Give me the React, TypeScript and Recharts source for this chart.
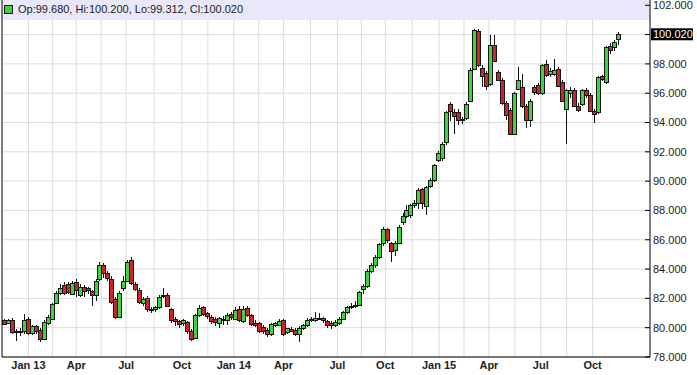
import React from "react";
import { ComposedChart, Bar, XAxis, YAxis, CartesianGrid, ReferenceArea, ReferenceLine } from "recharts";

// weekly candles, Nov 2012 .. Nov 2015
const opens = [
  80.5, 80.35, 80.55, 79.75, 79.8, 79.75, 80.6, 79.65, 80.1, 79.85,
  79.25, 80.3, 80.6, 81.7, 82.35, 82.9, 82.95, 82.3, 83.1, 82.25,
  82.75, 82.7, 82.5, 82.2, 83.35, 84.25, 83.7, 83.35, 81.95, 80.75,
  82.7, 83.2, 84.6, 83.0, 82.6, 81.7, 82.05, 81.2, 81.3, 81.4,
  82.15, 82.25, 81.25, 80.6, 80.45, 80.3, 80.4, 79.75, 79.3, 80.85,
  81.4, 81.0, 80.75, 80.6, 80.35, 80.5, 80.55, 80.9, 80.6, 81.3,
  80.45, 81.35, 80.85, 80.3, 80.3, 80.05, 79.85, 79.6, 80.2, 80.2,
  80.5, 79.7, 79.9, 79.85, 79.6, 80.0, 80.15, 80.55, 80.5, 80.65,
  80.65, 80.45, 80.35, 80.15, 80.3, 80.6, 81.05, 81.4, 81.5, 81.55,
  82.65, 82.85, 83.9, 84.25, 84.85, 85.75, 86.7, 85.75, 85.3, 85.8,
  87.2, 87.65, 87.7, 88.4, 88.5, 89.45, 88.3, 89.7, 90.1, 91.45,
  91.55, 92.7, 95.25, 94.75, 94.75, 94.15, 94.3, 95.5, 97.65, 100.25,
  97.75, 97.35, 96.65, 99.3, 97.45, 96.9, 95.3, 94.85, 93.25, 96.3,
  96.45, 95.1, 94.2, 96.4, 96.55, 96.0, 98.0, 97.3, 97.3, 97.65,
  96.75, 94.95, 96.0, 96.2, 95.15, 95.25, 96.2, 95.85, 94.8, 94.7,
  97.15, 96.75, 99.25, 99.15, 99.68,
];
const highs = [
  80.62, 80.6, 80.65, 79.92, 80.0, 80.95, 80.7, 80.2, 80.2, 79.95,
  80.5, 80.85, 81.7, 82.5, 83.0, 83.1, 83.15, 83.2, 83.3, 82.95,
  82.9, 82.8, 82.6, 83.3, 84.5, 84.4, 83.9, 83.5, 82.1, 82.5,
  83.5, 84.6, 84.8, 83.1, 82.7, 82.1, 82.15, 81.4, 81.5, 82.2,
  82.7, 82.35, 81.35, 80.7, 80.55, 80.6, 80.45, 79.9, 80.95, 81.55,
  81.5, 81.1, 80.85, 80.75, 80.75, 80.8, 81.0, 81.05, 81.4, 81.45,
  81.45, 81.45, 80.95, 80.5, 80.4, 80.2, 79.95, 80.3, 80.4, 80.6,
  80.6, 80.0, 80.05, 79.95, 80.1, 80.25, 80.65, 80.7, 81.05, 81.0,
  80.75, 80.55, 80.45, 80.5, 80.7, 81.15, 81.45, 81.7, 81.8, 82.5,
  82.95, 84.0, 84.4, 84.95, 85.8, 86.85, 86.8, 85.85, 85.9, 87.0,
  87.8, 88.4, 88.45, 88.7, 89.5, 89.55, 89.7, 90.2, 91.2, 92.05,
  92.7, 94.8, 95.4, 94.9, 94.9, 94.4, 95.4, 97.7, 100.4, 100.35,
  97.9, 97.5, 99.95, 100.0, 97.6, 97.05, 95.45, 95.0, 96.1, 97.8,
  97.3, 95.25, 95.6, 96.55, 96.7, 98.0, 98.25, 97.7, 98.35, 97.8,
  96.9, 96.3, 96.4, 96.35, 95.3, 96.3, 96.35, 96.0, 94.95, 97.2,
  97.25, 99.25, 99.4, 99.6, 100.2,
];
const lows = [
  80.15, 80.28, 79.6, 79.1, 79.4, 79.6, 79.5, 79.5, 79.6, 79.0,
  79.15, 80.2, 80.5, 81.6, 82.2, 82.2, 82.3, 82.2, 82.1, 82.1,
  82.1, 82.3, 81.45, 81.8, 83.2, 83.4, 83.2, 81.6, 80.6, 80.65,
  82.5, 83.1, 82.9, 82.5, 81.6, 81.5, 81.1, 81.0, 81.05, 81.3,
  82.0, 81.4, 80.3, 80.1, 80.0, 80.1, 79.6, 79.1, 79.2, 80.7,
  80.8, 80.6, 80.25, 80.1, 80.0, 80.2, 80.15, 80.55, 80.5, 80.4,
  80.35, 80.7, 80.1, 80.05, 79.65, 79.6, 79.35, 79.45, 80.05, 80.1,
  79.4, 79.55, 79.7, 79.45, 79.0, 79.85, 80.05, 80.4, 80.4, 80.5,
  80.35, 80.0, 79.9, 80.05, 80.2, 80.5, 80.95, 81.25, 81.35, 81.45,
  82.3, 82.7, 83.75, 84.1, 84.7, 85.6, 85.8, 84.5, 84.9, 85.7,
  87.0, 87.5, 87.5, 88.2, 88.1, 88.1, 87.7, 89.55, 89.95, 91.3,
  91.4, 92.5, 94.1, 93.25, 93.8, 93.9, 94.2, 95.4, 97.55, 97.8,
  96.4, 96.25, 96.5, 98.1, 96.8, 95.2, 94.15, 93.15, 93.15, 96.2,
  95.0, 93.6, 93.7, 95.9, 95.85, 95.9, 97.1, 97.1, 97.2, 96.4,
  95.4, 92.55, 95.7, 95.05, 94.7, 95.1, 95.7, 94.7, 93.95, 94.6,
  96.8, 96.6, 98.7, 98.9, 99.312,
];
const closes = [
  80.25, 80.5, 79.7, 79.8, 79.72, 80.55, 79.65, 80.1, 79.8, 79.2,
  80.4, 80.75, 81.6, 82.35, 82.7, 82.35, 82.45, 83.05, 82.6, 82.8,
  82.5, 82.55, 82.2, 83.2, 84.3, 83.7, 83.4, 81.75, 80.75, 82.35,
  83.2, 84.5, 83.05, 82.65, 81.75, 81.95, 81.25, 81.3, 81.4, 82.1,
  82.25, 81.5, 80.5, 80.45, 80.25, 80.5, 79.75, 79.25, 80.85, 81.35,
  80.95, 80.8, 80.45, 80.4, 80.65, 80.6, 80.85, 80.7, 81.2, 80.5,
  81.3, 80.85, 80.25, 80.2, 79.8, 79.8, 79.55, 80.25, 80.3, 80.45,
  79.55, 79.95, 79.8, 79.6, 80.0, 80.15, 80.55, 80.6, 80.65, 80.6,
  80.5, 80.15, 80.15, 80.4, 80.6, 81.1, 81.4, 81.5, 81.55, 82.45,
  82.85, 83.9, 84.3, 84.85, 85.7, 86.75, 86.0, 85.25, 85.8, 86.9,
  87.65, 88.0, 88.35, 88.5, 89.4, 88.5, 89.6, 90.05, 91.1, 91.9,
  92.55, 94.7, 94.8, 94.45, 94.2, 94.25, 95.25, 97.6, 100.3, 97.9,
  97.2, 96.5, 99.3, 98.2, 96.9, 95.3, 94.5, 93.25, 96.0, 96.9,
  95.1, 94.15, 95.45, 96.05, 96.0, 97.9, 97.25, 97.5, 97.55, 96.5,
  95.5, 96.2, 96.2, 95.15, 94.85, 96.2, 95.85, 94.8, 94.55, 97.1,
  96.95, 99.15, 98.95, 99.5, 100.02,
];

// x-axis labels and their week positions
const tickLabels = ["Jan 13", "Apr", "Jul", "Oct", "Jan 14", "Apr", "Jul", "Oct", "Jan 15", "Apr", "Jul", "Oct"];
const tickWeeks = [6, 18, 30.5, 44.5, 57.5, 70, 83.5, 95.5, 109, 121.5, 134.5, 147.5];
const priceTicks = [78, 80, 82, 84, 86, 88, 90, 92, 94, 96, 98, 100, 102];

const rows = closes.map((c, i) => ({ i, open: opens[i], high: highs[i], low: lows[i], close: c }));
const last = rows[rows.length - 1];

const W = 697;
const H = 375;
const AXIS_W = 47;
const PLOT_RIGHT = W - AXIS_W;
const X_MIN = -0.63;
const X_MAX = 161.9;
const Y_MIN = 78;
const Y_MAX = 102.36;
const FONT = "'Liberation Sans', Arial, sans-serif";

const gridWeeks = tickWeeks.flatMap((w, k) =>
  k < tickWeeks.length - 1 ? [w, (w + tickWeeks[k + 1]) / 2] : [w]
);

function Candle(props: any) {
  const { x, y, width, height, payload } = props;
  if (x == null || payload == null) return null;
  const { open, close, high, low } = payload;
  const top = Math.min(y, y + height);
  const h = Math.abs(height);
  const py = (v: number) => top + (high === low ? 0 : (h * (high - v)) / (high - low));
  const p = Math.round(x + width / 2 - 0.5);
  const up = close >= open;
  const bt = Math.round(py(Math.max(open, close)));
  const bb = Math.max(Math.round(py(Math.min(open, close))), bt + 1);
  return (
    <g>
      <line x1={p + 0.5} x2={p + 0.5} y1={Math.round(py(high))} y2={Math.round(py(low))} stroke="#111" strokeWidth={1} />
      <rect
        x={p - 1.5}
        y={bt + 0.5}
        width={4}
        height={bb - bt}
        fill={up ? "#3cd63c" : "#c8262a"}
        stroke="#161616"
        strokeWidth={1}
      />
    </g>
  );
}

function PriceTick(props: any) {
  const { y, payload } = props;
  const v = payload.value;
  const isLast = v === last.close;
  const hidden = !isLast && Math.abs(v - last.close) < 0.6;
  return (
    <g>
      {!isLast && <line x1={PLOT_RIGHT - 5} x2={PLOT_RIGHT} y1={y} y2={y} stroke="#000" />}
      {isLast && <rect x={PLOT_RIGHT + 1} y={y - 6} width={42} height={12} fill="#000" />}
      {!hidden && (
        <text x={PLOT_RIGHT + 3} y={y} dy="0.35em" fontSize={11} fontFamily={FONT} fill={isLast ? "#fff" : "#222"}>
          {v.toFixed(3)}
        </text>
      )}
    </g>
  );
}

export default function App() {
  const labelFor = (v: number) => {
    const k = tickWeeks.indexOf(v);
    return k >= 0 ? tickLabels[k] : "";
  };

  return (
    <div style={{ position: "absolute", left: 0, top: 0, width: W, height: H, background: "#fff" }}>
      <ComposedChart width={W} height={H} data={rows} margin={{ top: 0, right: 0, bottom: 0, left: 2 }}>
        <CartesianGrid stroke="#dcdcdc" horizontalValues={priceTicks} verticalValues={gridWeeks} />
        <ReferenceArea y1={101.0} y2={Y_MAX} fill="#e8e8fa" fillOpacity={1} stroke="none" />
        <XAxis
          dataKey="i"
          type="number"
          domain={[X_MIN, X_MAX]}
          allowDataOverflow
          ticks={tickWeeks}
          interval={0}
          tickFormatter={labelFor}
          height={18}
          tickLine={false}
          tickSize={0}
          tickMargin={4}
          axisLine={{ stroke: "#000" }}
          tick={{ fontSize: 11, fontWeight: "bold", fontFamily: FONT, fill: "#222" }}
        />
        <YAxis
          orientation="right"
          type="number"
          domain={[Y_MIN, Y_MAX]}
          allowDataOverflow
          ticks={[...priceTicks, last.close]}
          interval={0}
          width={AXIS_W}
          tickLine={false}
          axisLine={{ stroke: "#000" }}
          tick={<PriceTick />}
        />
        <ReferenceLine x={X_MIN} stroke="#000" />
        <Bar dataKey={(d: any) => [d.low, d.high]} barSize={4} shape={<Candle />} isAnimationActive={false} />
      </ComposedChart>
      <div
        style={{
          position: "absolute",
          left: 4,
          top: 3,
          display: "flex",
          alignItems: "center",
          fontFamily: FONT,
          fontSize: 11,
          color: "#222",
          whiteSpace: "nowrap",
        }}
      >
        <span style={{ width: 7, height: 7, background: "#3cd63c", border: "1px solid #1a1a1a", marginRight: 5 }} />
        {`Op:${last.open.toFixed(3)}, Hi:${last.high.toFixed(3)}, Lo:${last.low.toFixed(3)}, Cl:${last.close.toFixed(3)}`}
      </div>
    </div>
  );
}
